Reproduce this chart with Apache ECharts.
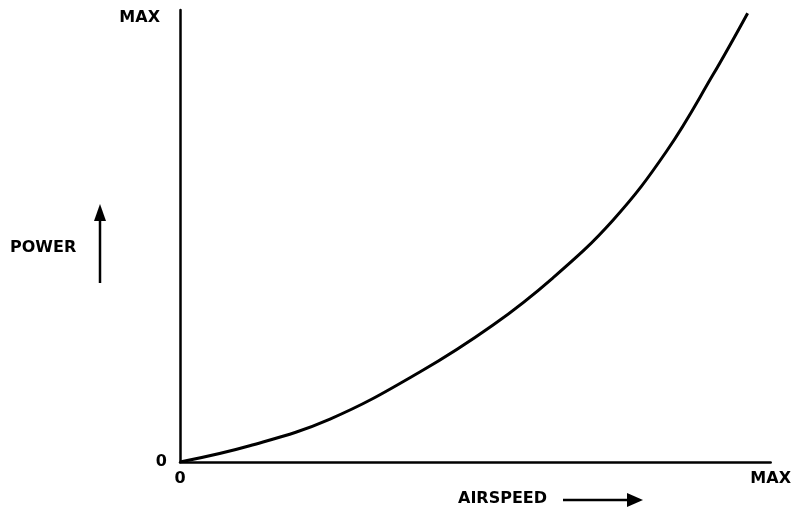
<!DOCTYPE html>
<html>
<head>
<meta charset="utf-8">
<script src="https://cdn.jsdelivr.net/npm/echarts@6/dist/echarts.min.js"></script>
<style>html,body{margin:0;padding:0;background:#fff;}#c{width:794px;height:519px;}</style>
</head>
<body>
<div id="c"></div>
<script>
var airspeed = [0, 11.8, 25.4, 40.6, 53.0, 63.1, 73.3, 82.4, 90.2, 96.1];
var power    = [0, 3.6, 9.5, 19.9, 30.3, 40.7, 53.5, 68.8, 85.6, 99.3];
var xTickLabels = {0: '0', 100: 'MAX'};
var yTickLabels = {0: '0', 100: 'MAX'};
var xTitle = 'AIRSPEED';
var yTitle = 'POWER';

var FONT = 'DejaVu Sans';
var chart = echarts.init(document.getElementById('c'), null, {renderer: 'canvas'});
var pts = airspeed.map(function (x, i) { return [x, power[i]]; });

chart.setOption({
  animation: false,
  backgroundColor: '#fff',
  grid: {left: 180, right: 23, top: 10, bottom: 57},
  xAxis: {
    type: 'value', min: 0, max: 100, interval: 100,
    axisLine: {show: true, lineStyle: {color: '#000', width: 2.5}},
    axisTick: {show: false},
    splitLine: {show: false},
    axisLabel: {
      showMinLabel: true, showMaxLabel: true, margin: 9,
      color: '#000', fontFamily: FONT, fontWeight: 'bold', fontSize: 16,
      formatter: function (v) { return xTickLabels[v] || ''; }
    }
  },
  yAxis: {
    type: 'value', min: 0, max: 100, interval: 100,
    axisLine: {show: true, lineStyle: {color: '#000', width: 2.5}},
    axisTick: {show: false},
    splitLine: {show: false},
    axisLabel: {
      showMinLabel: true, showMaxLabel: true, margin: 13,
      color: '#000', fontFamily: FONT, fontWeight: 'bold', fontSize: 16,
      formatter: function (v) {
        return v === 100 ? '{m|' + yTickLabels[v] + '}' : (yTickLabels[v] || '');
      },
      rich: {m: {padding: [16, 7, 0, 0], fontFamily: FONT, fontWeight: 'bold', fontSize: 16, color: '#000'}}
    }
  },
  series: [{
    type: 'line', data: pts, smooth: 0.4, showSymbol: false,
    lineStyle: {color: '#000', width: 3}
  }],
  graphic: [
    {type: 'text', left: 10, top: 240, style: {text: yTitle, fill: '#000', font: 'bold 16px ' + FONT}},
    {type: 'line', shape: {x1: 100, y1: 283, x2: 100, y2: 218}, style: {stroke: '#000', lineWidth: 2.5}},
    {type: 'polygon', shape: {points: [[94, 221], [106, 221], [100, 204]]}, style: {fill: '#000'}},
    {type: 'text', left: 458, top: 491, style: {text: xTitle, fill: '#000', font: 'bold 16px ' + FONT}},
    {type: 'line', shape: {x1: 563, y1: 500, x2: 630, y2: 500}, style: {stroke: '#000', lineWidth: 2.5}},
    {type: 'polygon', shape: {points: [[627, 493], [627, 507], [643, 500]]}, style: {fill: '#000'}}
  ]
});
</script>
</body>
</html>
